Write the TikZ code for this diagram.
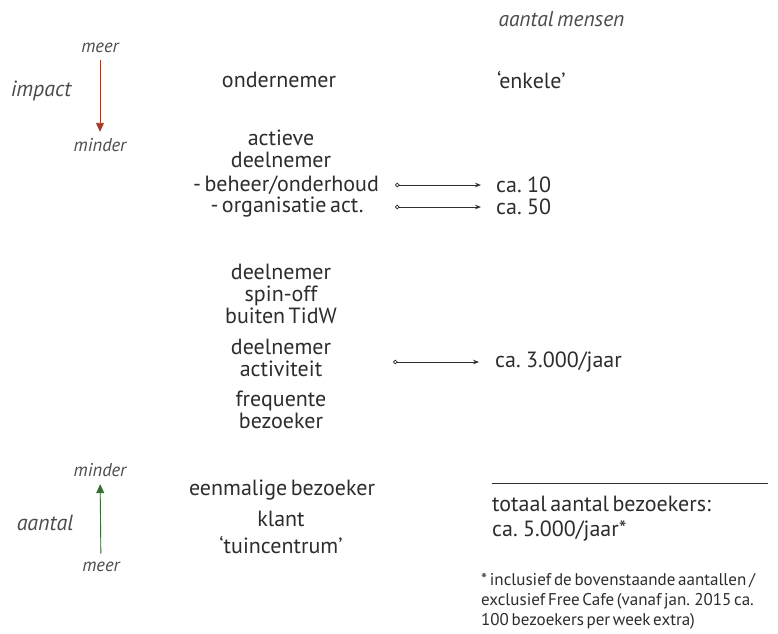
\documentclass[tikz,border=0pt]{standalone}
\usepackage{fontspec}
\setmainfont{PT Sans}[WordSpace=0.6]
\usetikzlibrary{arrows.meta}
\definecolor{tekst}{RGB}{45,45,45}
\definecolor{rood}{RGB}{165,60,40}
\definecolor{groen}{RGB}{55,110,50}
\tikzset{
  label/.style={align=center, text=tekst, font=\fontsize{22}{22}\selectfont, inner sep=0pt},
  schuin/.style={text=tekst!85, font=\fontsize{18.5}{19}\itshape},
  as/.style={text=tekst!85, font=\fontsize{22}{22}\itshape},
  pijl/.style={draw=tekst, line width=0.8pt, {Circle[open,length=4.5pt]}-{Stealth[length=6pt]}},
  richting/.style={line width=0.9pt, -{Triangle[length=9pt,width=8pt]}}
}
\begin{document}
\begin{tikzpicture}[x=1pt, y=-1pt]
			\useasboundingbox [fill=white] (0,0) rectangle (778,633);

			% kop en assen
			\node [schuin, font=\fontsize{21.5}{22}\itshape, anchor=west] (kop) at (495,19) {aantal mensen};
			\node [schuin] (meerboven) at (100,48) {meer};
			\node [schuin] (minderboven) at (100,145) {minder};
			\node [as] (impact) at (41,91) {impact};
			\node [schuin] (minderonder) at (100,470) {minder};
			\node [schuin] (meeronder) at (101,567) {meer};
			\node [as] (aantal) at (45,523) {aantal};
			\draw [richting, draw=rood, fill=rood, shorten <=4pt, shorten >=3pt] (meerboven) -- (minderboven);
			\draw [richting, draw=groen, fill=groen, shorten <=5pt, shorten >=4pt] (meeronder) -- (minderonder);

			% middenkolom
			\node [label] (ondernemer) at (279,80) {ondernemer};
			\node [label] (actief) at (281,149) {actieve\\deelnemer};
			\node [label] (beheer) at (286,185) {- beheer/onderhoud};
			\node [label] (organisatie) at (287,207) {- organisatie act.};
			\node [label] (spinoff) at (281,294) {deelnemer\\spin-off\\buiten TidW};
			\node [label] (activiteit) at (281,358) {deelnemer\\activiteit};
			\node [label] (frequent) at (281,410) {frequente\\bezoeker};
			\node [label] (eenmalig) at (282,490) {eenmalige bezoeker};
			\node [label, font=\fontsize{22}{27}\selectfont] (klant) at (281,532) {klant\\`tuincentrum'};

			% rechterkolom
			\node [label, anchor=west] (enkele) at (497,80) {`enkele'};
			\node [label, anchor=west] (tien) at (496,185) {ca. 10};
			\node [label, anchor=west] (vijftig) at (496,207) {ca. 50};
			\node [label, anchor=west] (drieduizend) at (495,362) {ca. 3.000/jaar};
			\node [label, anchor=west, align=left, font=\fontsize{22}{25}\selectfont] (totaal) at (492,519) {totaal aantal bezoekers:\\ca. 5.000/jaar*};
			\node [label, anchor=west, align=left, font=\fontsize{17}{20}\selectfont] (voetnoot) at (481,601) {* inclusief de bovenstaande aantallen /\\exclusief Free Cafe (vanaf jan. 2015 ca.\\100 bezoekers per week extra)};

			\coordinate (start1) at (395,185);
			\coordinate (start2) at (395,207);
			\coordinate (start3) at (393,362);
			\draw [pijl, shorten >=15pt] (start1) -- (tien.west);
			\draw [pijl, shorten >=15pt] (start2) -- (vijftig.west);
			\draw [pijl, shorten >=16pt] (start3) -- (drieduizend.west);

			\coordinate (lijnlinks) at (492,483);
			\coordinate (lijnrechts) at (768,483);
			\draw [tekst, line width=1pt] (lijnlinks) -- (lijnrechts);
		\end{tikzpicture}
\end{document}
